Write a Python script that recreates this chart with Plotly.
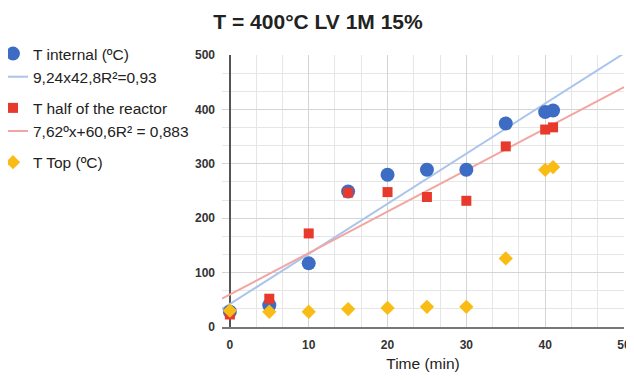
import plotly.graph_objects as go

time_min = [0, 5, 10, 15, 20, 25, 30, 35, 40, 41]
t_internal = [28, 40, 117, 249, 280, 289, 289, 374, 395, 398]
t_half = [23, 52, 172, 247, 248, 239, 232, 332, 363, 367]
t_top = [30, 28, 28, 33, 35, 37, 37, 126, 289, 294]

trend_x = [-1, 50]
trend_internal = [33, 503]
trend_half = [52, 441]

names = ["T internal (ºC)", "9,24x42,8R²=0,93", "T half of the reactor",
         "7,62ºx+60,6R² = 0,883", "T Top (ºC)"]

blue = "#3d6cc4"
red = "#e83a2c"
yellow = "#f9bc15"

W, H = 626, 364
L, R, T, B = 214, 10, 47, 45

fig = go.Figure()
fig.add_trace(go.Scatter(x=trend_x, y=trend_internal, mode="lines", name=names[1],
                         line=dict(color="#a9c5ec", width=2), legendgroup="a", legendrank=2))
fig.add_trace(go.Scatter(x=trend_x, y=trend_half, mode="lines", name=names[3],
                         line=dict(color="#f2a6a2", width=2), legendgroup="b", legendrank=4))
fig.add_trace(go.Scatter(x=time_min, y=t_internal, mode="markers", name=names[0],
                         marker=dict(color=blue, size=14, symbol="circle"), legendgroup="a", legendrank=1))
fig.add_trace(go.Scatter(x=time_min, y=t_half, mode="markers", name=names[2],
                         marker=dict(color=red, size=10, symbol="square"), legendgroup="b", legendrank=3))
fig.add_trace(go.Scatter(x=time_min, y=t_top, mode="markers", name=names[4],
                         marker=dict(color=yellow, size=11, symbol="diamond"), legendgroup="c", legendrank=5))

fig.update_layout(
    width=W, height=H,
    margin=dict(l=L, r=R, t=T, b=B, autoexpand=False),
    paper_bgcolor="white", plot_bgcolor="white",
    font=dict(family="Liberation Sans, Arial, sans-serif", color="#222"),
    title=dict(text="<b>T = 400°C LV 1M 15%</b>", x=310 / W, xref="container", xanchor="center",
               y=1 - 14 / H, yref="container", yanchor="middle",
               font=dict(size=21, color="#222")),
    showlegend=True,
    legend=dict(x=(-15 - L) / (W - L - R), xref="paper", y=1 - 29 / H, yref="container",
                xanchor="left", yanchor="top", font=dict(size=15.5, color="#222"),
                tracegroupgap=8, itemwidth=30, bgcolor="rgba(0,0,0,0)"),
    xaxis=dict(range=[-1, 50], tickvals=[0, 10, 20, 30, 40, 50], showgrid=True,
               gridcolor="#d4d4d4", gridwidth=1, automargin=True,
               minor=dict(dtick=10 / 3, tick0=0, showgrid=True, gridcolor="#e6e6e6"),
               zeroline=True, zerolinecolor="#555", zerolinewidth=1.5,
               showline=True, linecolor="#777", linewidth=2,
               tickfont=dict(size=12, color="#333", weight="bold"), ticklabelstandoff=6,
               title=dict(text="Time (min)", font=dict(size=15.5, color="#222"), standoff=14)),
    yaxis=dict(range=[0, 500], tickvals=[0, 100, 200, 300, 400, 500], showgrid=True,
               gridcolor="#d4d4d4", gridwidth=1, automargin=False,
               minor=dict(dtick=100 / 3, tick0=0, showgrid=True, gridcolor="#e6e6e6"),
               zeroline=False, showline=False,
               tickfont=dict(size=12, color="#333", weight="bold"), ticklabelstandoff=6),
)

fig.write_html(
    "out.html",
    post_script="document.documentElement.style.overflow='hidden';document.body.style.overflow='hidden';",
)
